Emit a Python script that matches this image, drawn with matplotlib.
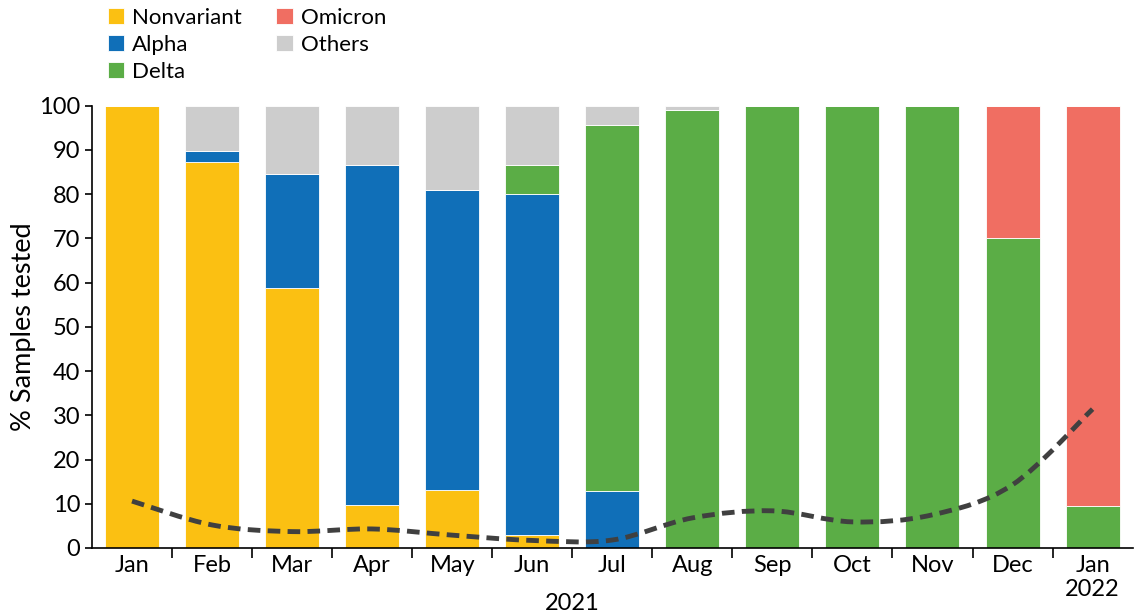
import numpy as np
import matplotlib
matplotlib.use("Agg")
import matplotlib.pyplot as plt
from matplotlib.path import Path
from matplotlib.patches import PathPatch

plt.rcParams['font.family'] = ['Lato', 'DejaVu Sans']

months = ["Jan", "Feb", "Mar", "Apr", "May", "Jun", "Jul",
          "Aug", "Sep", "Oct", "Nov", "Dec", "Jan\n2022"]

nonvariant = [100, 87.2, 58.8, 9.8, 13.2, 3.0, 0, 0, 0, 0, 0, 0, 0]
alpha = [0, 2.6, 25.8, 76.8, 67.8, 77.0, 12.9, 0, 0, 0, 0, 0, 0]
delta = [0, 0, 0, 0, 0, 6.6, 82.7, 99.1, 100, 100, 100, 70.1, 9.6]
omicron = [0, 0, 0, 0, 0, 0, 0, 0, 0, 0, 0, 29.9, 90.4]
others = [0, 10.2, 15.4, 13.4, 19.0, 13.4, 4.4, 0.9, 0, 0, 0, 0, 0]

positivity = [10.6, 5.2, 3.7, 4.3, 2.9, 1.7, 1.8, 6.8, 8.4, 5.9, 7.5, 14.3, 31.4]

series = [("Nonvariant", nonvariant, "#FBC012"),
          ("Alpha", alpha, "#106FB8"),
          ("Delta", delta, "#5BAD46"),
          ("Omicron", omicron, "#F06E62"),
          ("Others", others, "#CDCDCD")]


def smooth_path(xs, ys, k=1 / 6):
    # bezier curve through the points, like a smoothed spreadsheet line
    verts = [(xs[0], ys[0])]
    codes = [Path.MOVETO]
    n = len(xs)
    for i in range(n - 1):
        x0, y0 = xs[max(i - 1, 0)], ys[max(i - 1, 0)]
        x1, y1 = xs[i], ys[i]
        x2, y2 = xs[i + 1], ys[i + 1]
        x3, y3 = xs[min(i + 2, n - 1)], ys[min(i + 2, n - 1)]
        verts += [(x1 + (x2 - x0) * k, y1 + (y2 - y0) * k),
                  (x2 - (x3 - x1) * k, y2 - (y3 - y1) * k),
                  (x2, y2)]
        codes += [Path.CURVE4] * 3
    return Path(verts, codes)


def make_plot():
    fig = plt.figure(figsize=(11.36, 6.15), dpi=100)
    ax = fig.add_axes([0.081, 0.109, 0.916, 0.719])
    x = np.arange(len(months))
    bottom = np.zeros(len(months))
    for name, vals, color in series:
        vals = np.array(vals, dtype=float)
        ax.bar(x, vals, bottom=bottom, width=0.675, color=color,
               edgecolor="white", linewidth=0.6, label=name, zorder=2)
        bottom += vals

    patch = PathPatch(smooth_path(x, positivity), facecolor="none",
                      edgecolor="#404040", linewidth=3.5,
                      linestyle=(0, (2.6, 1.5)), zorder=3)
    ax.add_patch(patch)

    ax.set_xlim(-0.5, 12.5)
    ax.set_ylim(0, 100)
    ax.set_yticks(range(0, 101, 10))
    ax.set_xticks(x)
    ax.set_xticklabels(months)
    ax.set_xticks(np.arange(0.5, 12.5, 1), minor=True)
    ax.tick_params(axis="x", which="major", length=0, labelsize=17, pad=5)
    ax.tick_params(axis="x", which="minor", length=7, width=1.2)
    ax.tick_params(axis="y", length=5, width=1.2, labelsize=17)
    ax.set_ylabel("% Samples tested", fontsize=19.5, labelpad=2)
    for s in ["top", "right"]:
        ax.spines[s].set_visible(False)
    for s in ["left", "bottom"]:
        ax.spines[s].set_linewidth(1.2)

    ax.text(5.5, -10.2, "2021", ha="center", va="top", fontsize=17,
            transform=ax.transData, clip_on=False)

    ax.legend(ncol=2, loc="upper left", bbox_to_anchor=(0.015, 1.222),
              frameon=False, fontsize=16, handlelength=0.75,
              handleheight=0.75, handletextpad=0.35, columnspacing=1.55,
              labelspacing=0.32, borderaxespad=0, borderpad=0)
    return fig, ax


def main():
    fig, _ = make_plot()
    fig.savefig("out.png", dpi=100)


if __name__ == "__main__":
    main()
